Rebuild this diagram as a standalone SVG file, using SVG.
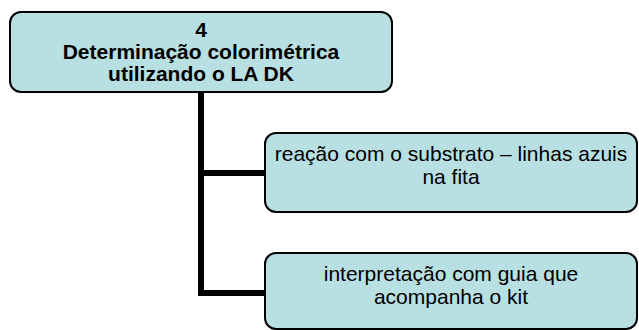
<svg xmlns="http://www.w3.org/2000/svg" width="639" height="330" viewBox="0 0 639 330">
<style>
.box{fill:#B8DFE2;stroke:#000;stroke-width:2}
.conn{stroke:#000;stroke-width:6;fill:none}
.t{font-family:"Liberation Sans",Arial,sans-serif;font-size:21px;fill:#000;text-anchor:middle}
.b{font-weight:bold}
</style>
<rect width="639" height="330" fill="#fff"/>
<g id="connectors">
<path class="conn" d="M201,92 V296 M198,173 H266 M198,293 H266"/>
</g>
<g id="node-main">
<rect class="box" x="10" y="12" width="382" height="80" rx="11"/>
<text class="t b" x="201" y="37">4</text>
<text class="t b" x="201" y="59">Determinação colorimétrica</text>
<text class="t b" x="201" y="81">utilizando o LA DK</text>
</g>
<g id="node-reacao">
<rect class="box" x="265" y="133" width="372" height="79" rx="11"/>
<text class="t" x="451" y="161">reação com o substrato – linhas azuis</text>
<text class="t" x="451" y="184">na fita</text>
</g>
<g id="node-interpretacao">
<rect class="box" x="265" y="253" width="372" height="76" rx="11"/>
<text class="t" x="451" y="281">interpretação com guia que</text>
<text class="t" x="451" y="304">acompanha o kit</text>
</g>
</svg>
